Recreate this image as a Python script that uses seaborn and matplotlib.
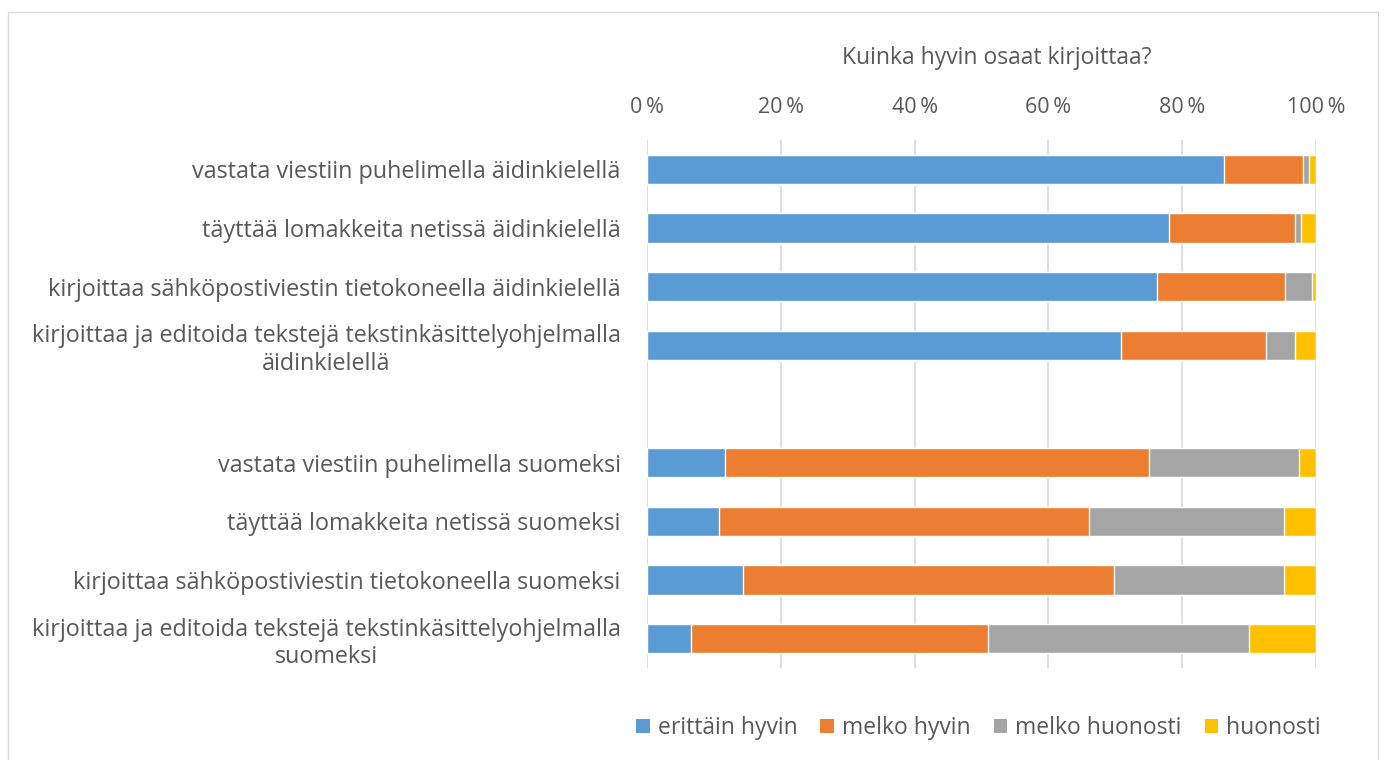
import matplotlib
matplotlib.use("Agg")
import matplotlib.pyplot as plt
from matplotlib.patches import Rectangle, Patch
import seaborn as sns
import pandas as pd
import numpy as np

categories = [
    "vastata viestiin puhelimella äidinkielellä",
    "täyttää lomakkeita netissä äidinkielellä",
    "kirjoittaa sähköpostiviestin tietokoneella äidinkielellä",
    "kirjoittaa ja editoida tekstejä tekstinkäsittelyohjelmalla\näidinkielellä",
    "vastata viestiin puhelimella suomeksi",
    "täyttää lomakkeita netissä suomeksi",
    "kirjoittaa sähköpostiviestin tietokoneella suomeksi",
    "kirjoittaa ja editoida tekstejä tekstinkäsittelyohjelmalla\nsuomeksi",
]
erittain_hyvin = [86.2, 78.1, 76.3, 70.8, 11.6, 10.8, 14.4, 6.6]
melko_hyvin = [11.8, 18.7, 19.1, 21.8, 63.5, 55.3, 55.4, 44.4]
melko_huonosti = [1.0, 1.0, 4.0, 4.2, 22.3, 29.1, 25.4, 39.0]
huonosti = [1.0, 2.2, 0.6, 3.2, 2.6, 4.8, 4.8, 10.0]

series = ["erittäin hyvin", "melko hyvin", "melko huonosti", "huonosti"]
colors = ["#5B9BD5", "#ED7D31", "#A5A5A5", "#FFC000"]

# empty slot between the two groups
order = categories[:4] + [" "] + categories[4:]

df = pd.DataFrame({
    "cat": categories,
    "s0": erittain_hyvin,
    "s1": melko_hyvin,
    "s2": melko_huonosti,
    "s3": huonosti,
})
cum = df[["s0", "s1", "s2", "s3"]].cumsum(axis=1)

sns.set_theme(style="white")
plt.rcParams['font.family'] = ['Open Sans', 'DejaVu Sans']
txt = "#595959"

fig = plt.figure(figsize=(13.86, 7.6), dpi=100)
ax = fig.add_axes([0.4668, 0.1211, 0.4827, 0.6947])

# stacked: draw cumulative totals from the outermost inward
for i in range(3, -1, -1):
    sns.barplot(x=cum[f"s{i}"], y=df["cat"], order=order, color=colors[i],
                width=0.5, saturation=1, orient="h", ax=ax, zorder=3)

ax.set_xlim(0, 100)
ax.set_xticks(np.arange(0, 101, 20))
ax.set_xticklabels([f"{v}\u2009%" for v in range(0, 101, 20)])
ax.xaxis.tick_top()
ax.tick_params(axis="x", length=0, pad=16, labelsize=15.5, labelcolor=txt)
ax.tick_params(axis="y", length=0, pad=19, labelsize=16.8, labelcolor=txt)
for lab in ax.get_yticklabels():
    lab.set_multialignment("center")
ax.grid(axis="x", color="#d9d9d9", linewidth=1.2, zorder=0)
ax.set_axisbelow(True)
for sp in ax.spines.values():
    sp.set_visible(False)
ax.set_xlabel("")
ax.set_ylabel("")

fig.text(0.719, 0.924, "Kuinka hyvin osaat kirjoittaa?", ha="center", va="center",
         fontsize=16.5, color=txt)

handles = [Patch(facecolor=c, edgecolor="none") for c in colors]
fig.legend(handles, series, loc="center", bbox_to_anchor=(0.706, 0.042), ncol=4,
           frameon=False, fontsize=16.5, labelcolor=txt, handlelength=0.6,
           handleheight=0.6, handletextpad=0.35, columnspacing=1.0)

fig.patches.append(Rectangle((8 / 1386, -0.01), 1370 / 1386, 1 - 12 / 760 + 0.01,
                             transform=fig.transFigure, fill=False,
                             edgecolor="#d9d9d9", linewidth=1))

plt.savefig("out.png", dpi=100)
